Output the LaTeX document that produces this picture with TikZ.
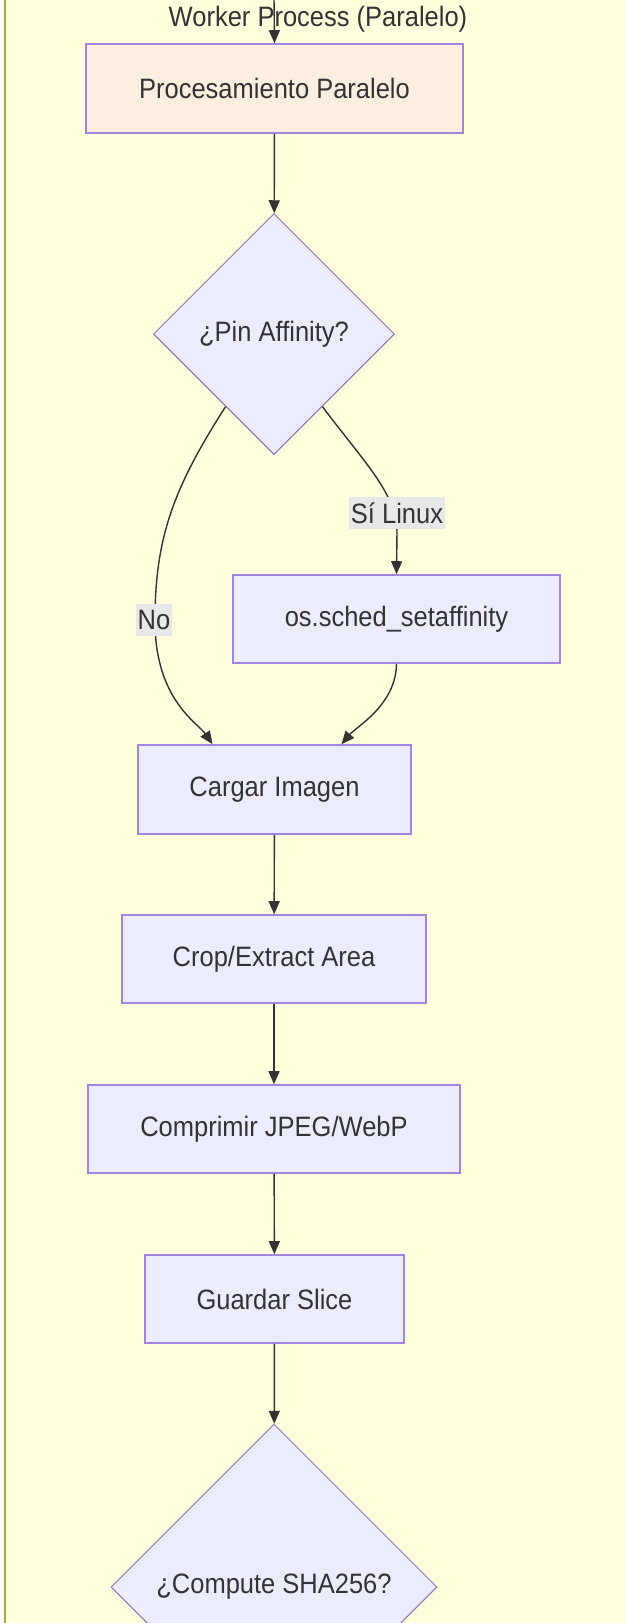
\documentclass[tikz,border=0pt]{standalone}
\usepackage{fontspec}
\setmainfont{Liberation Sans}
\usetikzlibrary{shapes.geometric,arrows.meta,calc}
\definecolor{clusterbg}{HTML}{FFFFDE}
\definecolor{clusterline}{HTML}{AAAA33}
\definecolor{nodefill}{HTML}{ECECFF}
\definecolor{nodeline}{HTML}{9370DB}
\definecolor{peach}{HTML}{FDEFE0}
\definecolor{ink}{HTML}{333333}
\definecolor{lblbg}{HTML}{E8E8E8}
\newcommand{\tx}[1]{\scalebox{1}[1.1]{#1}}
\begin{document}
\begin{tikzpicture}[x=1pt,y=-1pt,
  every node/.style={font=\fontsize{25.5}{30}\selectfont, text=ink},
  box/.style={draw=nodeline!85!white, fill=nodefill, line width=1.6pt, rectangle, inner sep=0pt},
  dec/.style={draw=nodeline!60!gray, fill=nodefill, diamond, line width=1pt, inner sep=0pt, aspect=1},
  flow/.style={draw=ink, line width=1.4pt, -{Triangle[length=13pt,width=11pt]}},
  lbl/.style={fill=lblbg, inner xsep=1.5pt, inner ysep=6pt}
]
\useasboundingbox (0,0) rectangle (625,1623);
\clip (0,0) rectangle (625,1623);
\fill[white] (0,0) rectangle (625,1623);
\fill[clusterbg] (5,-10) rectangle (630,1633);
\draw[clusterline, line width=2pt] (5,-10) -- (5,1633);

\node (title) at (318,19) {\tx{Worker Process (Paralelo)}};
\coordinate (entry) at (274,-2);
\node[box, fill=peach, minimum width=377, minimum height=89] (proc) at (274.5,88.5) {\tx{Procesamiento Paralelo}};
\node[dec, minimum width=241, minimum height=241] (pin) at (274,334) {\tx{¿Pin Affinity?}};
\node[box, minimum width=327, minimum height=88] (aff) at (396.5,619) {\tx{os.sched\_setaffinity}};
\node[box, minimum width=273, minimum height=89] (load) at (274.5,789.5) {\tx{Cargar Imagen}};
\node[box, minimum width=304, minimum height=88] (crop) at (274,959) {\tx{Crop/Extract Area}};
\node[box, minimum width=372, minimum height=88] (comp) at (274,1129) {\tx{Comprimir JPEG/WebP}};
\node[box, minimum width=259, minimum height=88] (save) at (274.5,1299) {\tx{Guardar Slice}};
\node[dec, minimum width=326, minimum height=326] (sha) at (274,1587) {\tx{¿Compute SHA256?}};

\coordinate (pinL) at ($(pin.south)!0.4!(pin.west)$);
\coordinate (pinR) at ($(pin.south)!0.4!(pin.east)$);
\coordinate (loadL) at ($(load.north)+(-62,0)$);
\coordinate (loadR) at ($(load.north)+(67,0)$);

\draw[flow] (entry) -- (proc.north);
\draw[flow] (proc) -- (pin);
\draw[flow] (pinL) .. controls (172,490) and (155,540) .. (155,621) .. controls (155,700) and (198,723) .. (loadL);
\draw[flow] (pinR) .. controls (364,462) and (397,494) .. (397,532) -- (aff.north);
\draw[flow] (aff.south) .. controls (396,705) and (356,727) .. (loadR);
\draw[flow] (load) -- (crop);
\draw[flow] (crop) -- (comp);
\draw[flow] (comp) -- (save);
\draw[flow] (save) -- (sha);

\node[lbl] (no) at (154,620) {\tx{No}};
\node[lbl] (si) at (397,513) {\tx{Sí Linux}};
\end{tikzpicture}
\end{document}
